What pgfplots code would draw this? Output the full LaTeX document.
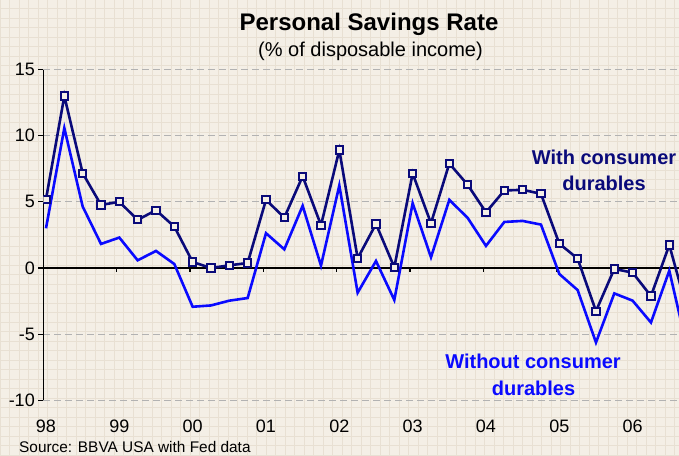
\documentclass[border=0pt]{standalone}
\usepackage{fontspec}
\setmainfont{Liberation Sans}
\usepackage{pgfplots}
\pgfplotsset{compat=1.18}
\definecolor{bgcol}{HTML}{F4EFE6}
\definecolor{gridcol}{HTML}{E8E0D3}
\definecolor{navyc}{HTML}{0A0A7A}
\definecolor{bluec}{HTML}{0A0AFF}
\begin{document}
\begin{tikzpicture}[x=1pt,y=1pt]
\useasboundingbox (0,0) rectangle (679,455);
\fill[bgcol] (0,0) rectangle (679,455);
\draw[gridcol, line width=0.6pt, step=9.5pt] (0,0) grid (679,455);
\begin{axis}[at={(46pt,187pt)}, anchor=origin, scale only axis,
  width=635.7pt, height=330.7pt,
  xmin=-0.147, xmax=34.53, ymin=-10, ymax=15,
  axis y line=left, axis x line=bottom,
  x axis line style={draw=none},
  y axis line style={-, line width=1.2pt, black},
  xtick={0,4,8,12,16,20,24,28,32},
  xticklabels={98,99,00,01,02,03,04,05,06},
  xtick style={draw=none},
  ytick={-10,-5,0,5,10,15},
  yticklabels={-10,-5,0,5,10,15},
  tick align=outside, major tick length=5pt,
  ytick style={black, line width=1.2pt},
  ymajorgrids,
  major grid style={black!30, line width=1pt, dash pattern=on 7pt off 4pt},
  tick label style={font=\fontsize{18}{18}\selectfont},
  xticklabel style={yshift=-10.7pt},
  clip=true, clip marker paths=true,
]
\addplot[black, line width=1.2pt, forget plot] coordinates {(-0.147,0) (34.53,0)};
\addplot[black, line width=1.2pt, forget plot, ycomb, mark=none] coordinates {(-0.147,-0.33) (3.853,-0.33) (7.853,-0.33) (11.853,-0.33) (15.853,-0.33) (19.853,-0.33) (23.853,-0.33) (27.853,-0.33) (31.853,-0.33)};
\addplot[bluec, line width=2.6pt] coordinates {
(0,3.0) (1,10.58) (2,4.65) (3,1.82) (4,2.3) (5,0.58) (6,1.29) (7,0.3)
(8,-2.93) (9,-2.83) (10,-2.47) (11,-2.27) (12,2.63) (13,1.41) (14,4.7) (15,0.18)
(16,6.24) (17,-1.87) (18,0.53) (19,-2.42) (20,4.9) (21,0.81) (22,5.15) (23,3.79)
(24,1.67) (25,3.48) (26,3.56) (27,3.28) (28,-0.45) (29,-1.67) (30,-5.63) (31,-1.92)
(32,-2.47) (33,-4.12) (34,-0.2) (35,-6.2)};
\addplot[navyc, line width=2.6pt, mark=square*, mark size=3.6pt,
  mark options={fill=bgcol, draw=navyc, line width=2pt, solid}] coordinates {
(0,5.2) (1,13.0) (2,7.17) (3,4.77) (4,5.0) (5,3.64) (6,4.37) (7,3.13)
(8,0.45) (9,0.0) (10,0.2) (11,0.38) (12,5.15) (13,3.81) (14,6.94) (15,3.23)
(16,8.92) (17,0.73) (18,3.33) (19,0.05) (20,7.15) (21,3.38) (22,7.9) (23,6.29)
(24,4.21) (25,5.86) (26,5.91) (27,5.61) (28,1.84) (29,0.71) (30,-3.26) (31,-0.07)
(32,-0.35) (33,-2.12) (34,1.74) (35,-3.3)};
\end{axis}
\node[anchor=base, font=\fontsize{24}{24}\selectfont\bfseries] at (369,424.3) {Personal Savings Rate};
\node[anchor=base, font=\fontsize{20}{20}\selectfont] at (370.5,398.3) {(\% of disposable income)};
\node[anchor=base west, inner sep=0pt, font=\fontsize{15.4}{15.4}\selectfont] at (19,2.7) {Source: BBVA USA with Fed data};
\node[anchor=base, text=navyc, font=\fontsize{20}{20}\selectfont\bfseries] at (604,290) {With consumer};
\node[anchor=base, text=navyc, font=\fontsize{20}{20}\selectfont\bfseries] at (604,264.3) {durables};
\node[anchor=base, text=bluec, font=\fontsize{20}{20}\selectfont\bfseries] at (533,86.7) {Without consumer};
\node[anchor=base, text=bluec, font=\fontsize{20}{20}\selectfont\bfseries] at (533.5,59.3) {durables};
\end{tikzpicture}
\end{document}
